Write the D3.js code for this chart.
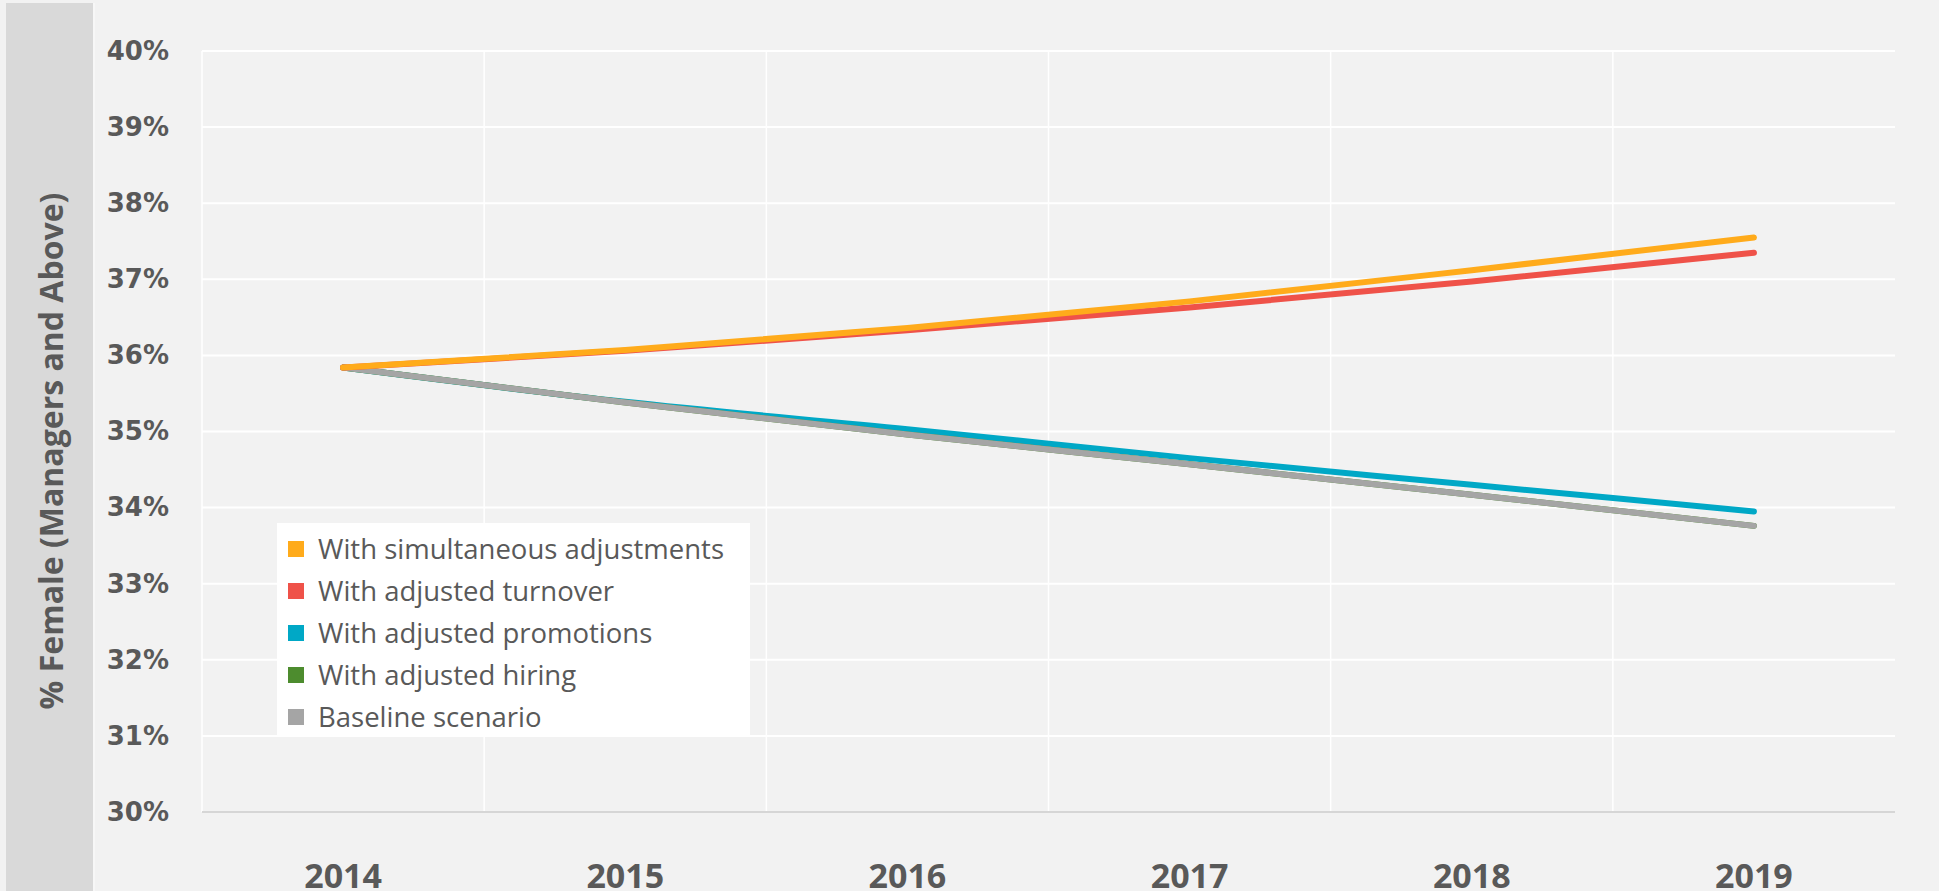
<!DOCTYPE html>
<html>
<head>
<meta charset="utf-8">
<script src="https://cdn.jsdelivr.net/npm/d3@7"></script>
<style>
  html, body { margin: 0; padding: 0; background: #f2f2f2; }
  svg { display: block; }
</style>
</head>
<body>
<svg id="chart" width="1939" height="891"></svg>
<script>
// ---------- data ----------
const years = ["2014", "2015", "2016", "2017", "2018", "2019"];
const yTicks = [30, 31, 32, 33, 34, 35, 36, 37, 38, 39, 40];
const seriesNames = [
  "With simultaneous adjustments",
  "With adjusted turnover",
  "With adjusted promotions",
  "With adjusted hiring",
  "Baseline scenario"
];
const simultaneous = [35.84, 36.07, 36.36, 36.71, 37.12, 37.55];
const turnover     = [35.84, 36.06, 36.33, 36.63, 36.97, 37.35];
const promotions   = [35.84, 35.39, 35.03, 34.65, 34.30, 33.95];
const hiring       = [35.84, 35.38, 34.96, 34.57, 34.17, 33.76];
const baseline     = [35.84, 35.38, 34.96, 34.57, 34.17, 33.76];
const yTitle = "% Female (Managers and Above)";

const colors = {
  "With simultaneous adjustments": "#ffab1b",
  "With adjusted turnover": "#ef5249",
  "With adjusted promotions": "#00a8c6",
  "With adjusted hiring": "#4d8c2e",
  "Baseline scenario": "#a5a5a5"
};
const valuesByName = {
  "With simultaneous adjustments": simultaneous,
  "With adjusted turnover": turnover,
  "With adjusted promotions": promotions,
  "With adjusted hiring": hiring,
  "Baseline scenario": baseline
};
// drawing order (bottom to top)
const drawOrder = [
  "With adjusted promotions",
  "With adjusted hiring",
  "Baseline scenario",
  "With adjusted turnover",
  "With simultaneous adjustments"
];

// ---------- layout ----------
const svg = d3.select("#chart");
const plotL = 202, plotR = 1895, plotT = 51, plotB = 812;

// left gray panel
svg.append("rect").attr("x", 6).attr("y", 3).attr("width", 87).attr("height", 888)
  .attr("fill", "#d9d9d9");
svg.append("line").attr("x1", 94).attr("x2", 94).attr("y1", 3).attr("y2", 891)
  .attr("stroke", "#f7f7f7").attr("stroke-width", 2);

const x = d3.scaleBand().domain(years).range([plotL, plotR]);
const y = d3.scaleLinear().domain([30, 40]).range([plotB, plotT]);

// horizontal gridlines
svg.append("g").selectAll("line").data(yTicks.filter(d => d > 30)).join("line")
  .attr("x1", plotL).attr("x2", plotR)
  .attr("y1", d => y(d)).attr("y2", d => y(d))
  .attr("stroke", "#ffffff").attr("stroke-width", 2);

// vertical gridlines at category boundaries
svg.append("g").selectAll("line").data(years).join("line")
  .attr("x1", d => x(d)).attr("x2", d => x(d))
  .attr("y1", plotT).attr("y2", plotB)
  .attr("stroke", "#ffffff").attr("stroke-width", 1.5);

// bottom axis line
svg.append("line").attr("x1", plotL).attr("x2", plotR)
  .attr("y1", y(30)).attr("y2", y(30))
  .attr("stroke", "#d6d6d6").attr("stroke-width", 2);

// y axis
const yAxis = svg.append("g").attr("transform", `translate(${plotL},0)`)
  .call(d3.axisLeft(y).tickValues(yTicks).tickFormat(d => d + "%").tickSize(0).tickPadding(33));
yAxis.select(".domain").remove();
yAxis.selectAll("text")
  .attr("font-family", "'DejaVu Sans', sans-serif")
  .attr("font-weight", "bold")
  .attr("font-size", 26)
  .attr("fill", "#595959");

// x axis
const xAxis = svg.append("g").attr("transform", `translate(0,${plotB})`)
  .call(d3.axisBottom(x).tickSize(0));
xAxis.select(".domain").remove();
xAxis.selectAll("text")
  .attr("y", 76).attr("dy", 0)
  .attr("font-family", "'Open Sans', sans-serif")
  .attr("font-weight", "bold")
  .attr("font-size", 34)
  .attr("fill", "#595959");

// y title
svg.append("text")
  .attr("transform", "translate(63,451) rotate(-90)")
  .attr("text-anchor", "middle")
  .attr("font-family", "'Open Sans', sans-serif")
  .attr("font-weight", "bold")
  .attr("font-size", 32)
  .attr("fill", "#595959")
  .text(yTitle);

// lines
const line = d3.line()
  .x((d, i) => x(years[i]) + x.bandwidth() / 2)
  .y(d => y(d))
  .curve(d3.curveMonotoneX);

svg.append("g").selectAll("path").data(drawOrder).join("path")
  .attr("d", n => line(valuesByName[n]))
  .attr("fill", "none")
  .attr("stroke", n => colors[n])
  .attr("stroke-width", 6)
  .attr("stroke-linecap", "round")
  .attr("stroke-linejoin", "round");

// legend
const lg = svg.append("g");
lg.append("rect").attr("x", 277).attr("y", 523).attr("width", 473).attr("height", 212)
  .attr("fill", "#ffffff");
const items = lg.selectAll("g.item").data(seriesNames).join("g")
  .attr("class", "item")
  .attr("transform", (d, i) => `translate(0,${549 + i * 42})`);
items.append("rect").attr("x", 288).attr("y", -8).attr("width", 16).attr("height", 16)
  .attr("fill", d => colors[d]);
items.append("text").attr("x", 318).attr("y", 0).attr("dy", "0.36em")
  .attr("font-family", "'Open Sans', sans-serif")
  .attr("font-size", 27.5)
  .attr("fill", "#595959")
  .text(d => d);
</script>
</body>
</html>
